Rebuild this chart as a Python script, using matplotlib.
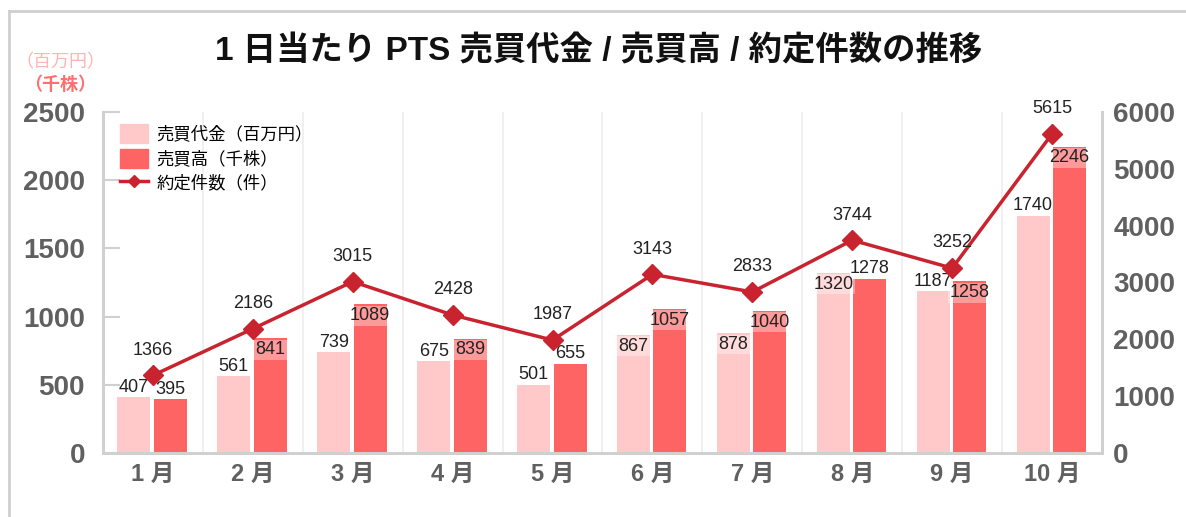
import matplotlib.pyplot as plt
from matplotlib.lines import Line2D
import numpy as np

plt.rcParams['font.family'] = ['Liberation Sans', 'Noto Sans CJK JP', 'DejaVu Sans']
cjk = ['Noto Sans CJK JP', 'Liberation Sans']

months = ['1 月', '2 月', '3 月', '4 月', '5 月', '6 月', '7 月', '8 月', '9 月', '10 月']
daikin = [407, 561, 739, 675, 501, 867, 878, 1320, 1187, 1740]      # 売買代金 (百万円)
dakaka = [395, 841, 1089, 839, 655, 1057, 1040, 1278, 1258, 2246]   # 売買高 (千株)
kensu = [1366, 2186, 3015, 2428, 1987, 3143, 2833, 3744, 3252, 5615]  # 約定件数 (件)

# where the value labels sit: True = just inside the top of the bar
light_inside = [False, False, False, False, False, True, True, True, False, False]
dark_inside = [False, True, True, True, False, True, True, False, True, True]

c_light = '#ffc9c9'
c_dark = '#ff6464'
c_line = '#c8232f'
c_tick = '#606060'

fig = plt.figure(figsize=(11.86, 5.17), dpi=100)
ax = fig.add_axes([0.0868, 0.1238, 0.8424, 0.6596])
ax2 = ax.twinx()

x = np.arange(len(months))
w = 0.33
ax.bar(x - 0.19, daikin, w, color=c_light, zorder=2)
ax.bar(x + 0.175, dakaka, w, color=c_dark, zorder=2)
ax2.plot(x, kensu, color=c_line, lw=2.5, marker='D', ms=10, zorder=5)

lab = dict(fontsize=13, color='#222222', ha='center', zorder=6)
box = dict(facecolor='white', alpha=0.35, edgecolor='none', pad=1)
for i in range(len(x)):
    if light_inside[i]:
        ax.annotate(str(daikin[i]), (x[i] - 0.19, daikin[i]), xytext=(0, -2),
                    textcoords='offset points', va='top', bbox=box, **lab)
    else:
        ax.annotate(str(daikin[i]), (x[i] - 0.19, daikin[i]), xytext=(0, 1),
                    textcoords='offset points', va='bottom', **lab)
    if dark_inside[i]:
        ax.annotate(str(dakaka[i]), (x[i] + 0.175, dakaka[i]), xytext=(0, -2),
                    textcoords='offset points', va='top', bbox=box, **lab)
    else:
        ax.annotate(str(dakaka[i]), (x[i] + 0.175, dakaka[i]), xytext=(0, 1),
                    textcoords='offset points', va='bottom', **lab)
    ax2.annotate(str(kensu[i]), (x[i], kensu[i]), xytext=(0, 12),
                 textcoords='offset points', va='bottom', **lab)

ax.set_xlim(-0.5, len(x) - 0.5)
ax.set_ylim(0, 2500)
ax2.set_ylim(0, 6000)
ax.set_yticks([0, 500, 1000, 1500, 2000, 2500])
ax2.set_yticks([0, 1000, 2000, 3000, 4000, 5000, 6000])
ax.set_xticks(x)
ax.set_xticklabels(months, fontsize=17, fontweight='bold', color=c_tick)
ax.tick_params(axis='x', length=0, pad=7)
ax.tick_params(axis='y', direction='in', length=12, width=1.5, color='#d0d0d0',
               labelsize=20, labelcolor=c_tick, pad=13)
ax2.tick_params(axis='y', direction='in', length=0, labelsize=20, labelcolor=c_tick, pad=8)
for t in ax.get_yticklabels() + ax2.get_yticklabels():
    t.set_fontweight('bold')

# light vertical separators between months
for b in np.arange(0.5, len(x) - 0.5, 1):
    ax.axvline(b, color='#eeeeee', lw=1.2, zorder=0)

for a in (ax, ax2):
    a.spines['top'].set_visible(False)
    for s in ('left', 'right', 'bottom'):
        a.spines[s].set_color('#d0d0d0')
        a.spines[s].set_linewidth(2)

handles = [plt.Rectangle((0, 0), 1, 1, color=c_light),
           plt.Rectangle((0, 0), 1, 1, color=c_dark),
           Line2D([], [], color=c_line, lw=2.5, marker='D', ms=6)]
ax.legend(handles, ['売買代金（百万円）', '売買高（千株）', '約定件数（件）'],
          loc='upper left', bbox_to_anchor=(0.005, 1.0), frameon=False,
          prop={'family': cjk, 'size': 12.5}, handlelength=1.6, handleheight=1.3,
          labelspacing=0.3, handletextpad=0.5, borderaxespad=0.3)

fig.text(0.505, 0.9, '1 日当たり PTS 売買代金 / 売買高 / 約定件数の推移',
         ha='center', va='center', fontsize=24, fontweight='bold', color='#111111')
fig.text(0.051, 0.88, '（百万円）', ha='center', va='center', fontsize=13,
         color='#ffb3b3', family=cjk)
fig.text(0.051, 0.836, '（千株）', ha='center', va='center', fontsize=13,
         color='#ff6f6f', fontweight='bold', family=cjk)

# outer frame (top and left edges only)
fig.add_artist(Line2D([0.0076, 1.0], [0.979, 0.979], color='#cfcfcf', lw=2))
fig.add_artist(Line2D([0.0076, 0.0076], [0.0, 0.979], color='#cfcfcf', lw=2))

fig.savefig('out.png', dpi=100)
